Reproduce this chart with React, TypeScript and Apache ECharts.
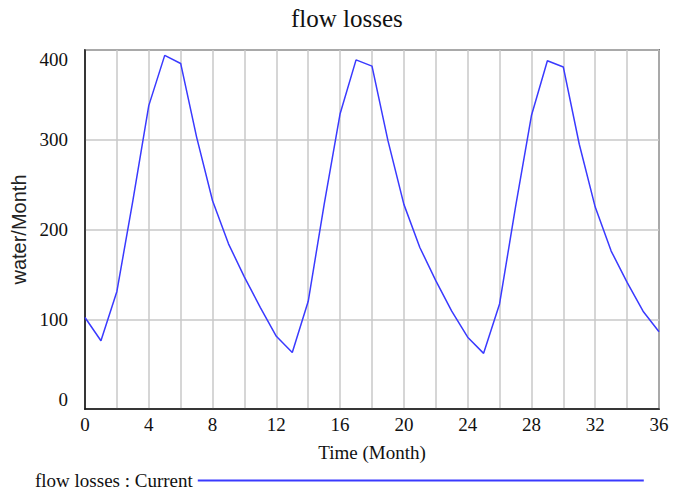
import React, { useEffect, useRef } from "react";
import * as echarts from "echarts";

const months: number[] = Array.from({ length: 37 }, (_, i) => i);
const flowLosses: number[] = [
  102, 76, 131, 232, 338, 394, 385, 303, 232, 184, 147, 113, 81,
  63, 120, 228, 329, 389, 382, 299, 228, 180, 143, 109, 80,
  62, 117, 225, 327, 388, 381, 295, 225, 176, 141, 109, 86,
];
const titleText = "flow losses";
const seriesName = "flow losses : Current";
const xAxisTitle = "Time (Month)";
const yAxisTitle = "water/Month";

const FONT = "'Liberation Serif', 'DejaVu Serif', serif";
const SANS = "'Liberation Sans', Arial, sans-serif";

export default function App() {
  const ref = useRef<HTMLDivElement>(null);
  useEffect(() => {
    if (!ref.current) return;
    const chart = echarts.init(ref.current, undefined, { renderer: "svg" });
    chart.setOption({
      animation: false,
      backgroundColor: "#ffffff",
      textStyle: { fontFamily: FONT },
      title: {
        text: titleText,
        left: 291,
        top: 6,
        padding: 0,
        textStyle: { fontFamily: FONT, fontSize: 25, fontWeight: "normal", color: "#111" },
      },
      legend: {
        left: 35,
        top: 471,
        padding: 0,
        align: "right",
        icon: "rect",
        itemWidth: 446,
        itemHeight: 2,
        textStyle: { fontFamily: FONT, fontSize: 19, color: "#111" },
        data: [seriesName],
      },
      grid: {
        left: 85,
        right: 20,
        top: 50,
        bottom: 81,
        show: true,
        borderColor: "#111",
        borderWidth: 1.5,
        containLabel: false,
      },
      xAxis: {
        type: "value",
        min: 0,
        max: 36,
        interval: 2,
        name: xAxisTitle,
        nameLocation: "middle",
        nameGap: 34,
        nameTextStyle: { fontFamily: FONT, fontSize: 19, color: "#111" },
        axisLine: { show: true, lineStyle: { color: "#111", width: 1.5 } },
        axisTick: { show: false },
        axisLabel: {
          fontFamily: FONT,
          fontSize: 19,
          color: "#111",
          margin: 6,
          formatter: (v: number) => (v % 4 === 0 ? String(v) : ""),
        },
        splitLine: { show: true, lineStyle: { color: "#c8c8c8", width: 1.5 } },
      },
      yAxis: {
        type: "value",
        min: 0,
        max: 400,
        interval: 100,
        name: yAxisTitle,
        nameLocation: "middle",
        nameGap: 53,
        nameTextStyle: { fontFamily: SANS, fontSize: 20, color: "#222" },
        axisLine: { show: true, lineStyle: { color: "#111", width: 1.5 } },
        axisTick: { show: false },
        axisLabel: {
          fontFamily: FONT,
          fontSize: 19,
          color: "#111",
          margin: 17,
          verticalAlignMinLabel: "bottom",
          verticalAlignMaxLabel: "top",
        },
        splitLine: { show: true, lineStyle: { color: "#c8c8c8", width: 1.5 } },
      },
      series: [
        {
          name: seriesName,
          type: "line",
          data: months.map((m, i) => [m, flowLosses[i]]),
          showSymbol: false,
          symbol: "none",
          color: "#3a3aff",
          lineStyle: { color: "#3a3aff", width: 1.5 },
          itemStyle: { color: "#3a3aff" },
        },
      ],
    });
    return () => chart.dispose();
  }, []);
  return (
    <div
      ref={ref}
      style={{ position: "fixed", left: 0, top: 0, width: 679, height: 490 }}
    />
  );
}
